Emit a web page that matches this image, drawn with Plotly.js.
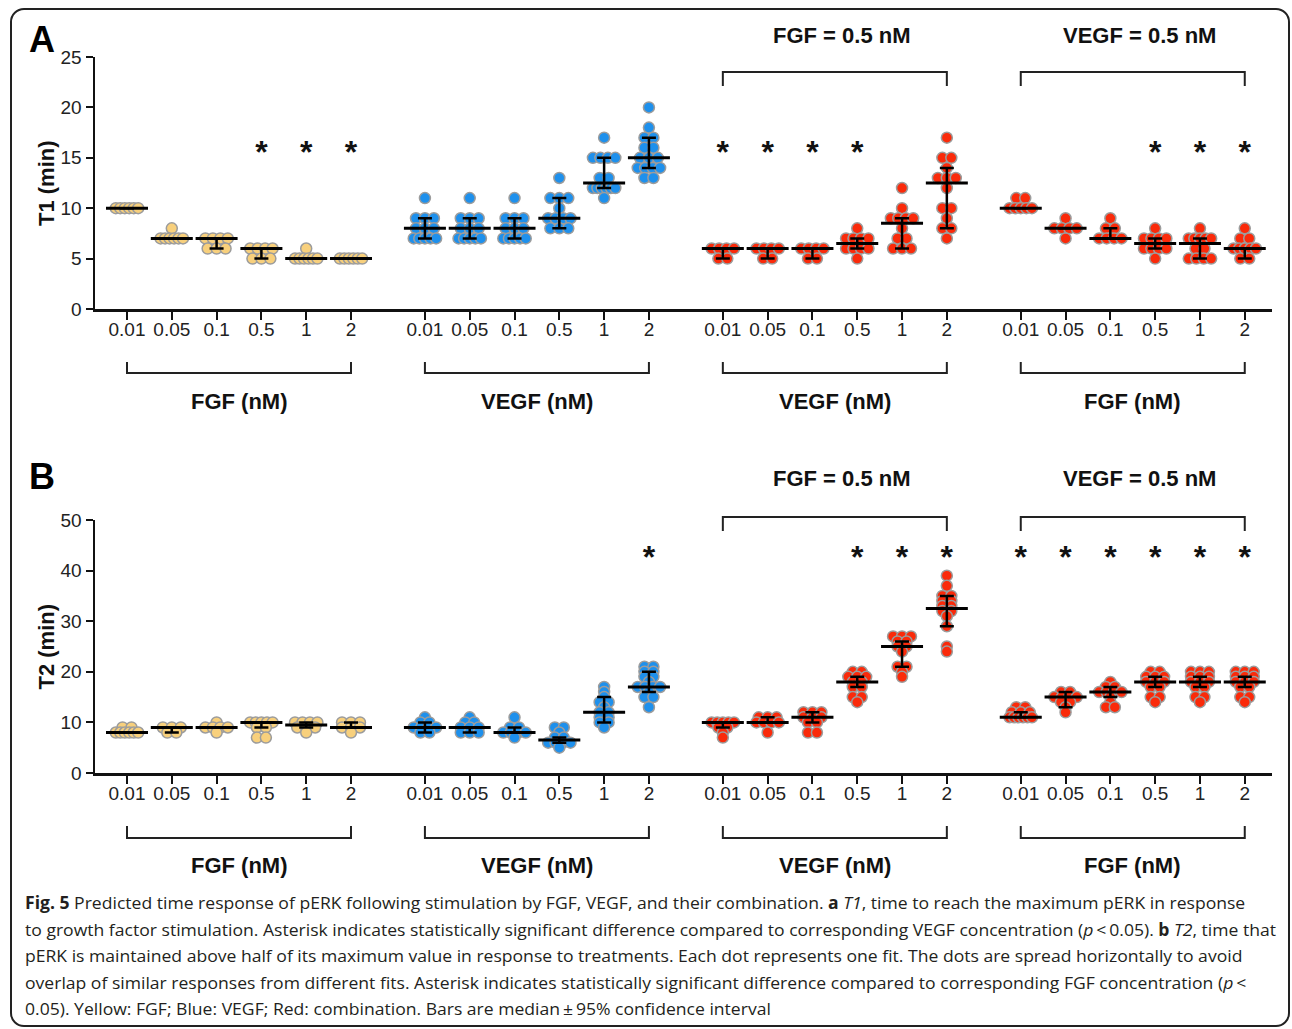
<!DOCTYPE html>
<html><head><meta charset="utf-8">
<script src="https://cdn.plot.ly/plotly-3.0.1.min.js"></script>
<style>
html,body{margin:0;padding:0;background:#fff;}
#wrap{position:relative;width:1292px;height:1029px;overflow:hidden;background:#fff;}
#plot{position:absolute;left:0;top:0;width:1292px;height:1029px;}
#frame{position:absolute;left:10px;top:8px;width:1280px;height:1019px;box-sizing:border-box;border:2px solid #222;border-radius:14px;pointer-events:none;}
#caption{position:absolute;left:25px;top:890px;font-family:'Open Sans',sans-serif;font-size:17px;line-height:26.5px;color:#231f20;}
#caption div{white-space:nowrap;transform-origin:0 50%;}
</style></head>
<body>
<div id="wrap">
<div id="plot"></div>
<div id="frame"></div>
<div id="caption">
<div><b>Fig. 5</b> Predicted time response of pERK following stimulation by FGF, VEGF, and their combination. <b>a</b> <i>T1</i>, time to reach the maximum pERK in response</div>
<div>to growth factor stimulation. Asterisk indicates statistically significant difference compared to corresponding VEGF concentration (<i>p</i>&#8201;&lt;&#8201;0.05). <b>b</b> <i>T2</i>, time that</div>
<div>pERK is maintained above half of its maximum value in response to treatments. Each dot represents one fit. The dots are spread horizontally to avoid</div>
<div>overlap of similar responses from different fits. Asterisk indicates statistically significant difference compared to corresponding FGF concentration (<i>p</i>&#8201;&lt;</div>
<div>0.05). Yellow: FGF; Blue: VEGF; Red: combination. Bars are median&#8201;±&#8201;95% confidence interval</div>
</div>
</div>
<script>
// ---------------- DATA ----------------
const conc = ['0.01','0.05','0.1','0.5','1','2'];
const groupNames = ['FGF (nM)','VEGF (nM)','VEGF (nM)','FGF (nM)'];
const fixedLabels = ['', '', 'FGF = 0.5 nM', 'VEGF = 0.5 nM'];

// Panel A: T1 (min)
const t1_fgf = [
  [10,10,10,10,10,10],
  [8,7,7,7,7,7,7],
  [7,7,7,7,6,6,6],
  [6,6,6,6,5,5,5],
  [6,5,5,5,5,5,5],
  [5,5,5,5,5,5]
];
const t1_fgf_med = [10,7,7,6,5,5];
const t1_fgf_lo  = [10,7,6,5,5,5];
const t1_fgf_hi  = [10,7,7,6,5,5];

const t1_vegf = [
  [11,9,9,9,8,8,8,7,7,7,7,7],
  [11,9,9,9,8,8,8,7,7,7,7,7],
  [11,9,9,9,8,8,8,7,7,7,7,7],
  [13,11,11,11,10,9,9,9,9,8,8,8],
  [17,15,15,15,15,13,13,12,12,12,12,12,12,11],
  [20,18,17,17,16,16,15,15,15,14,14,14,14,13,13]
];
const t1_vegf_med = [8,8,8,9,12.5,15];
const t1_vegf_lo  = [7,7,7,8,12,14];
const t1_vegf_hi  = [9,9,9,11,15,17];

const t1_combo_vegf = [
  [6,6,6,6,5,5],
  [6,6,6,6,5,5],
  [6,6,6,6,5,5],
  [8,7,7,7,7,6,6,6,6,5],
  [12,10,9,9,9,9,8,7,7,6,6,6],
  [17,15,15,14,13,13,13,12,10,10,9,8,8,7]
];
const t1_combo_vegf_med = [6,6,6,6.5,8.5,12.5];
const t1_combo_vegf_lo  = [5,5,5,6,6,8];
const t1_combo_vegf_hi  = [6,6,6,7,9,14];

const t1_combo_fgf = [
  [11,11,10,10,10,10,10],
  [9,8,8,8,8,7],
  [9,8,8,7,7,7,7],
  [8,7,7,7,7,6,6,6,6,5],
  [8,7,7,7,7,7,6,6,5,5,5,5],
  [8,7,7,6,6,6,6,6,5,5]
];
const t1_combo_fgf_med = [10,8,7,6.5,6.5,6];
const t1_combo_fgf_lo  = [10,8,7,6,5,5];
const t1_combo_fgf_hi  = [10,8,8,7,7,6];

const t1_sig = [[0,0,0,1,1,1],[0,0,0,0,0,0],[1,1,1,1,0,0],[0,0,0,1,1,1]];

// Panel B: T2 (min)
const t2_fgf = [
  [9,9,8,8,8,8,8,8],
  [9,9,9,8,8],
  [10,9,9,9,9,8],
  [10,10,10,10,10,9,9,7,7],
  [10,10,10,10,9,9,9,8],
  [10,10,10,9,9,9,8]
];
const t2_fgf_med = [8,9,9,10,9.5,9];
const t2_fgf_lo  = [8,8,9,9,9,9];
const t2_fgf_hi  = [8,9,9,10,10,10];

const t2_vegf = [
  [11,10,10,9,9,9,9,8,8],
  [11,10,10,9,9,9,8,8,8],
  [11,9,9,8,8,8,8,7],
  [9,9,8,7,7,6,6,6,6,5],
  [17,16,15,14,14,13,12,12,11,11,10,10,9],
  [21,21,20,20,19,19,18,17,17,17,17,16,15,15,13]
];
const t2_vegf_med = [9,9,8,6.5,12,17];
const t2_vegf_lo  = [8,8,8,6,10,16];
const t2_vegf_hi  = [10,9,9,7,15,20];

const t2_combo_vegf = [
  [10,10,10,10,10,9,9,8,7],
  [11,11,11,10,10,10,10,8],
  [12,12,12,11,11,11,10,10,8,8],
  [20,20,19,19,19,18,18,17,17,15,15,14],
  [27,27,27,26,26,25,25,24,21,21,20,19],
  [39,37,35,35,34,34,33,33,32,32,31,29,25,24]
];
const t2_combo_vegf_med = [10,10,11,18,25,32.5];
const t2_combo_vegf_lo  = [9,10,10,17,21,29];
const t2_combo_vegf_hi  = [10,11,12,19,26,35];

const t2_combo_fgf = [
  [13,13,12,12,12,11,11,11,11,11,11],
  [16,16,15,15,15,15,14,14,13,12],
  [18,17,17,16,16,16,16,15,14,13,13],
  [20,20,19,19,19,18,18,18,17,17,15,15,14],
  [20,20,20,19,19,19,18,18,18,17,17,15,15,14],
  [20,20,20,19,19,19,18,18,18,17,17,15,15,14]
];
const t2_combo_fgf_med = [11,15,16,18,18,18];
const t2_combo_fgf_lo  = [11,13,15,17,17,17];
const t2_combo_fgf_hi  = [12,16,17,19,19,19];

const t2_sig = [[0,0,0,0,0,0],[0,0,0,0,0,1],[0,0,0,1,1,1],[1,1,1,1,1,1]];

// ---------------- DRAWING ----------------
const W = 1292, H = 1029;
const GSTEP = 6.65, UNIT = 44.8, X0PX = 127;
const YELLOW = '#F8D07C', BLUE = '#1E90EC', RED = '#FA2A0A';
const FONT = 'Liberation Sans, Arial, Helvetica, sans-serif';
const px = v => v / W, py = v => 1 - v / H;
const pos = (g, i) => g * GSTEP + i;

function swarm(vals, center) {
  const counts = {}, idx = {};
  vals.forEach(v => counts[v] = (counts[v] || 0) + 1);
  return vals.map(v => {
    const k = counts[v];
    const j = (idx[v] = (idx[v] || 0) + 1) - 1;
    if (k === 1) return center;
    const span = Math.min((k - 1) * 0.2, 0.5);
    return center - span / 2 + span * j / (k - 1);
  });
}

const panels = [
  { xa:'x', ya:'y', sig:t1_sig, sigY:15.3, ytitle:'T1 (min)', yTop:57, yBot:309,
    groups:[
      {v:t1_fgf, m:t1_fgf_med, lo:t1_fgf_lo, hi:t1_fgf_hi, c:YELLOW},
      {v:t1_vegf, m:t1_vegf_med, lo:t1_vegf_lo, hi:t1_vegf_hi, c:BLUE},
      {v:t1_combo_vegf, m:t1_combo_vegf_med, lo:t1_combo_vegf_lo, hi:t1_combo_vegf_hi, c:RED},
      {v:t1_combo_fgf, m:t1_combo_fgf_med, lo:t1_combo_fgf_lo, hi:t1_combo_fgf_hi, c:RED}
    ],
    brB:373, brBend:362, lblB:401, brT:72, brTend:86, lblT:35, letter:'A', letterY:40 },
  { xa:'x2', ya:'y2', sig:t2_sig, sigY:42.1, ytitle:'T2 (min)', yTop:520, yBot:773,
    groups:[
      {v:t2_fgf, m:t2_fgf_med, lo:t2_fgf_lo, hi:t2_fgf_hi, c:YELLOW},
      {v:t2_vegf, m:t2_vegf_med, lo:t2_vegf_lo, hi:t2_vegf_hi, c:BLUE},
      {v:t2_combo_vegf, m:t2_combo_vegf_med, lo:t2_combo_vegf_lo, hi:t2_combo_vegf_hi, c:RED},
      {v:t2_combo_fgf, m:t2_combo_fgf_med, lo:t2_combo_fgf_lo, hi:t2_combo_fgf_hi, c:RED}
    ],
    brB:838, brBend:826, lblB:865, brT:517, brTend:531, lblT:479, letter:'B', letterY:476 }
];

const traces = [], medTraces = [], shapes = [], annotations = [];

panels.forEach(P => {
  P.groups.forEach((G, g) => {
    const xs = [], ys = [];
    G.v.forEach((vals, i) => {
      swarm(vals, pos(g, i)).forEach((x, k) => { xs.push(x); ys.push(vals[k]); });
    });
    traces.push({
      type:'scatter', mode:'markers', x:xs, y:ys, xaxis:P.xa, yaxis:P.ya,
      marker:{size:11, color:G.c, line:{color:'#9c9c9c', width:1.5}},
      hoverinfo:'skip'
    });
    const mx = conc.map((_, i) => pos(g, i));
    medTraces.push({
      type:'scatter', mode:'markers', x:mx, y:G.m, xaxis:P.xa, yaxis:P.ya,
      marker:{symbol:'line-ew', size:30, color:'black', line:{color:'black', width:3}},
      error_y:{type:'data', symmetric:false,
        array:G.hi.map((h, i) => h - G.m[i]),
        arrayminus:G.lo.map((l, i) => G.m[i] - l),
        color:'black', thickness:2.5, width:7},
      hoverinfo:'skip'
    });
    const x0 = pos(g, 0), x1 = pos(g, conc.length - 1);
    shapes.push({type:'path', xref:P.xa, yref:'paper',
      path:`M ${x0},${py(P.brBend)} L ${x0},${py(P.brB)} L ${x1},${py(P.brB)} L ${x1},${py(P.brBend)}`,
      line:{color:'#222', width:2}});
    annotations.push({xref:P.xa, yref:'paper', x:(x0 + x1) / 2, y:py(P.lblB), text:'<b>' + groupNames[g] + '</b>',
      showarrow:false, xanchor:'center', yanchor:'middle', font:{size:22, color:'#111', family:FONT}});
    if (fixedLabels[g]) {
      shapes.push({type:'path', xref:P.xa, yref:'paper',
        path:`M ${x0},${py(P.brTend)} L ${x0},${py(P.brT)} L ${x1},${py(P.brT)} L ${x1},${py(P.brTend)}`,
        line:{color:'#222', width:2}});
      annotations.push({xref:P.xa, yref:'paper', x:(x0 + x1) / 2 + 0.15, y:py(P.lblT), text:'<b>' + fixedLabels[g] + '</b>',
        showarrow:false, xanchor:'center', yanchor:'middle', font:{size:22, color:'#111', family:FONT}});
    }
  });
  const sx = [], sy = [], st = [];
  P.sig.forEach((row, g) => row.forEach((s, i) => { if (s) { sx.push(pos(g, i)); sy.push(P.sigY); st.push('<b>*</b>'); } }));
  medTraces.push({type:'scatter', mode:'text', x:sx, y:sy, text:st, xaxis:P.xa, yaxis:P.ya,
    textposition:'middle center', textfont:{size:32, color:'#111', family:FONT}, hoverinfo:'skip'});
  annotations.push({xref:'paper', yref:'paper', x:px(42), y:py(P.letterY), text:'<b>' + P.letter + '</b>',
    showarrow:false, xanchor:'center', yanchor:'middle', font:{size:36, color:'#000', family:FONT}});
  annotations.push({xref:'paper', yref:'paper', x:px(46), y:py((P.yTop + P.yBot) / 2), text:'<b>' + P.ytitle + '</b>',
    textangle:-90, showarrow:false, xanchor:'center', yanchor:'middle', font:{size:22, color:'#111', family:FONT}});
});

const tickvals = [], ticktext = [];
groupNames.forEach((_, g) => conc.forEach((c, i) => { tickvals.push(pos(g, i)); ticktext.push(c); }));

const xRange = [(95 - X0PX) / UNIT, (1272 - X0PX) / UNIT];
const xCommon = {
  range:xRange, tickmode:'array', tickvals:tickvals, ticktext:ticktext,
  ticks:'outside', ticklen:8, tickwidth:2, tickcolor:'#111', ticklabelstandoff:-6,
  showline:true, linewidth:2.5, linecolor:'#111', showgrid:false, zeroline:false,
  tickfont:{size:19, color:'#222', family:FONT}, fixedrange:true
};
const yCommon = {
  ticks:'outside', ticklen:7, tickwidth:2, tickcolor:'#111',
  showline:true, linewidth:2.5, linecolor:'#111', showgrid:false, zeroline:false,
  tickfont:{size:19, color:'#222', family:FONT}, fixedrange:true
};

const layout = {
  width:W, height:H, margin:{l:0, r:0, t:0, b:0},
  paper_bgcolor:'rgba(0,0,0,0)', plot_bgcolor:'rgba(0,0,0,0)',
  showlegend:false, font:{family:FONT, color:'#222'},
  xaxis:Object.assign({}, xCommon, {domain:[px(95), px(1272)], anchor:'y'}),
  yaxis:Object.assign({}, yCommon, {domain:[py(309), py(57)], range:[0, 25], dtick:5, anchor:'x'}),
  xaxis2:Object.assign({}, xCommon, {domain:[px(95), px(1272)], anchor:'y2'}),
  yaxis2:Object.assign({}, yCommon, {domain:[py(773), py(520)], range:[0, 50], dtick:10, anchor:'x2'}),
  shapes:shapes, annotations:annotations
};

Plotly.newPlot('plot', traces.concat(medTraces), layout, {displayModeBar:false, staticPlot:true});

(function () {
  const lines = document.querySelectorAll('#caption div');
  const w = lines[1].getBoundingClientRect().width;
  const k = 1251 / w;
  lines.forEach(l => l.style.transform = 'scaleX(' + k + ')');
})();
</script>
</body></html>
